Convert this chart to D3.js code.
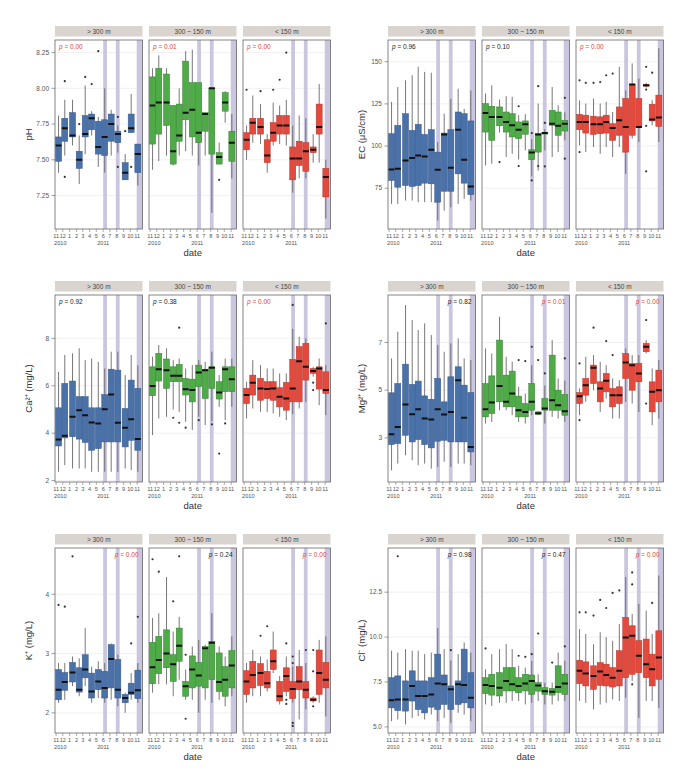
<!DOCTYPE html>
<html><head><meta charset="utf-8">
<script src="https://cdn.jsdelivr.net/npm/d3@7"></script>
<style>body{margin:0;background:#fff} text{font-family:"Liberation Sans",Arial,sans-serif}</style>
</head><body><svg id="c" width="684" height="774"></svg>
<script>
// ---------- data ----------
const sampleDates = ["2010-11-12","2010-12-10","2011-01-14","2011-02-13","2011-03-12","2011-04-10","2011-05-10","2011-06-08","2011-07-07","2011-08-06","2011-09-08","2011-10-05","2011-11-04"];
const tickDates = ["2010-11-01","2010-12-01","2011-01-01","2011-02-01","2011-03-01","2011-04-01","2011-05-01","2011-06-01","2011-07-01","2011-08-01","2011-09-01","2011-10-01","2011-11-01"];
const tickLabels = ["11","12","1","2","3","4","5","6","7","8","9","10","11"];
const yearLabels = [["2010","2010-11-01"],["2011","2011-06-01"]];
const bands = [["2011-06-01","2011-06-18"],["2011-07-28","2011-08-14"],["2011-10-30","2011-12-10"]];
const facets = ["> 300 m","300 ~ 150 m","< 150 m"];

// box stats: [lower whisker, Q1, median, Q3, upper whisker]
const pH_hi = [[7.41,7.49,7.60,7.66,7.81],[7.53,7.63,7.72,7.79,7.92],[7.60,7.66,7.67,7.83,7.92],[7.33,7.44,7.50,7.56,7.67],[7.54,7.66,7.68,7.81,8.02],[7.67,7.71,7.79,7.82,7.84],[7.45,7.54,7.59,7.77,7.80],[7.41,7.53,7.66,7.78,8.00],[7.53,7.63,7.75,7.82,7.85],[7.55,7.62,7.68,7.70,7.74],[7.36,7.36,7.41,7.48,7.54],[7.69,7.69,7.72,7.82,7.96],[7.32,7.41,7.54,7.61,7.61]];
const pH_mid = [[7.43,7.61,7.88,8.08,8.14],[7.49,7.68,7.90,8.14,8.23],[7.53,7.74,7.90,8.10,8.14],[7.46,7.47,7.56,7.88,7.88],[7.53,7.63,7.67,7.89,8.00],[7.56,7.78,7.83,8.19,8.26],[7.53,7.66,7.85,8.04,8.27],[7.46,7.62,7.69,8.04,8.04],[7.53,7.70,7.82,7.83,7.83],[7.13,7.54,8.00,8.00,8.00],[7.47,7.47,7.52,7.55,7.62],[7.76,7.84,7.90,7.97,7.98],[7.37,7.49,7.62,7.70,7.82]];
const pH_lo = [[7.50,7.57,7.64,7.69,7.74],[7.62,7.68,7.76,7.79,7.95],[7.61,7.68,7.73,7.79,7.89],[7.41,7.48,7.53,7.64,7.68],[7.60,7.63,7.69,7.76,7.90],[7.61,7.68,7.74,7.81,7.88],[7.60,7.68,7.74,7.81,7.92],[7.27,7.36,7.51,7.59,7.74],[7.37,7.46,7.51,7.63,7.81],[7.37,7.42,7.56,7.62,7.79],[7.48,7.55,7.57,7.59,7.68],[7.48,7.68,7.73,7.89,8.03],[7.09,7.24,7.38,7.44,7.50]];
const pH_hi_out = [[1,8.05],[1,7.38],[3,7.75],[4,8.08],[5,8.03],[6,8.26],[9,7.80],[9,7.45],[10,7.70],[11,7.45]];
const pH_mid_out = [[10,7.36]];
const pH_lo_out = [[0,7.99],[2,7.98],[4,7.99],[5,8.06],[6,8.25]];

const EC_hi = [[65.7,79.6,86.1,107.3,126.2],[65.7,75.6,86.5,112.3,135],[67.7,76.6,91.5,119.2,139],[67.7,76.0,92.9,109.3,142],[66.7,76.6,94.4,112.9,147],[66.7,78.0,93.8,106.9,144],[66.7,77.6,97.8,109.7,143.5],[55.8,66.7,85.9,96.4,102.4],[61.7,73.2,106.9,107.7,119.2],[63.7,73.2,87.1,109.7,128],[65.7,83.5,109.7,120.2,134],[68.7,78.0,91.9,119.2,122],[67.7,71.2,76.0,114.9,133]];
const EC_mid = [[88.5,108.3,119.6,125.2,131.2],[89.5,103.4,117.3,123.6,136],[108,112,117.3,123.2,127.6],[93.5,108.3,114.3,120.2,129.6],[95.4,105.4,112.3,119.2,129.2],[92,104.4,109.7,114.3,118.3],[97.4,107,112.9,114.9,118.9],[82,91.9,96.2,97.8,104],[85.5,96.4,106.9,107.3,125.2],[97.4,107.1,107.7,107.9,110],[93.5,112.3,113.3,121.2,135],[96.4,106.4,112.1,120.2,124.2],[103.4,108.9,113.3,115.3,120]];
const EC_lo = [[100.4,109.7,114.3,118.8,127],[96.4,107.7,114.3,118.3,125.2],[99.4,106.9,112.9,117.7,128.2],[95.4,107.3,112.9,117.3,125.2],[99.4,107.7,114.3,118.3,126.2],[93.5,103.4,110.7,113.3,120.2],[99.4,106.4,115.3,123.2,147],[83.5,96.4,111.3,128.2,133],[104.4,106.4,136.5,136.5,149],[102.4,110.9,111.3,128.2,140],[134.7,135.5,136,136.5,137.5],[112.3,114.9,115.7,124.8,127.2],[102.4,111.7,116.9,130.2,158]];
const EC_hi_out = [];
const EC_mid_out = [[2,90.5],[5,123.6],[5,88.1],[7,107.7],[7,79.6],[8,135.5],[8,88.1],[9,113.7],[9,87.9],[12,128.6],[12,92.5]];
const EC_lo_out = [[0,139],[0,96.4],[1,137.5],[2,137.5],[3,138],[4,142],[5,143],[10,147],[10,133.5],[10,112],[10,85],[11,143.5]];

const Ca_hi = [[2.37,3.46,3.73,5.07,6.59],[2.65,3.80,3.89,6.10,7.30],[2.51,3.85,4.69,6.20,7.37],[2.51,3.75,4.97,5.54,7.58],[2.51,3.61,4.76,5.54,7.08],[2.37,3.28,4.45,5.07,7.15],[2.37,3.35,4.41,5.07,7.01],[2.37,3.63,5.01,5.63,6.73],[2.37,3.63,5.63,6.70,7.44],[2.37,3.63,4.44,6.66,7.44],[2.51,3.42,4.23,5.04,6.45],[2.44,3.70,4.59,6.24,7.30],[2.37,3.28,3.75,5.89,6.87]];
const Ca_mid = [[3.92,5.58,5.99,6.80,7.23],[4.62,6.20,6.70,7.37,7.72],[4.69,5.89,6.66,7.13,7.58],[5.00,6.17,6.42,6.80,7.08],[4.90,6.17,6.42,6.90,7.15],[4.48,5.61,5.85,6.31,6.73],[4.13,5.32,5.82,6.28,6.87],[4.70,5.96,6.56,6.87,7.08],[4.34,5.46,6.66,6.70,7.01],[4.50,5.89,6.76,6.80,7.44],[5.11,5.44,5.72,6.17,6.45],[4.55,5.75,6.70,6.80,7.15],[5.11,5.75,6.28,6.80,7.15]];
const Ca_lo = [[4.62,5.25,5.61,5.89,6.17],[5.04,5.61,6.13,6.45,7.08],[4.90,5.39,5.89,6.31,6.87],[4.90,5.46,5.86,6.17,6.73],[4.83,5.39,5.89,6.17,6.73],[4.69,5.11,5.54,5.92,6.52],[4.55,4.97,5.46,6.14,6.52],[4.80,5.32,5.89,7.11,8.40],[5.04,5.32,7.04,7.65,8.07],[5.32,6.24,6.80,7.79,8.00],[6.38,6.52,6.62,6.73,6.80],[5.18,5.86,6.73,6.80,7.15],[4.76,5.68,5.82,6.59,6.87]];
const Ca_hi_out = [];
const Ca_mid_out = [[3,4.65],[4,8.45],[4,4.44],[5,4.23],[7,4.55],[9,4.37],[10,3.14],[11,4.41]];
const Ca_lo_out = [[7,9.41],[10,6.13],[10,5.82],[12,8.63]];

const Mg_hi = [[1.64,2.72,3.15,4.89,6.33],[1.92,2.76,3.46,5.28,7.45],[2.27,3.11,4.40,6.09,8.57],[2.06,2.83,3.99,5.24,7.94],[1.85,2.93,4.20,5.38,7.52],[1.92,2.72,3.81,4.76,7.80],[1.71,2.58,3.77,4.62,7.31],[1.78,2.86,4.20,5.49,6.89],[2.00,2.90,3.98,4.51,6.61],[1.78,2.83,4.09,5.56,6.96],[1.92,2.83,5.42,5.98,7.17],[1.92,2.83,3.84,5.21,6.33],[1.85,2.41,2.62,4.90,6.26]];
const Mg_mid = [[3.60,3.88,4.20,5.28,6.75],[3.67,4.02,4.48,5.60,6.54],[4.16,4.51,5.18,7.10,8.08],[4.16,4.30,4.51,5.63,6.40],[3.95,4.30,4.86,5.80,6.19],[3.67,3.88,4.16,4.75,5.14],[3.60,3.88,4.09,4.44,4.86],[3.95,4.16,4.51,5.28,6.05],[3.95,3.99,4.03,4.09,4.12],[3.60,4.16,4.23,4.65,5.20],[3.88,4.16,4.58,6.47,7.10],[3.81,4.16,4.37,5.00,5.49],[3.67,3.95,4.12,4.82,5.40]];
const Mg_lo = [[3.95,4.44,4.75,4.90,5.07],[4.51,4.79,5.21,5.49,6.40],[5.00,5.28,5.94,6.05,6.47],[4.09,4.51,5.07,5.35,6.19],[4.65,4.93,5.39,5.70,6.05],[3.81,4.30,4.79,5.07,5.49],[3.81,4.44,4.79,5.14,5.42],[4.51,5.49,6.16,6.54,6.75],[4.44,5.00,6.05,6.12,6.47],[4.09,5.35,5.70,6.12,6.47],[6.54,6.61,6.82,6.96,7.10],[3.53,4.09,4.93,5.35,5.91],[3.81,4.51,5.00,5.84,6.26]];
const Mg_hi_out = [];
const Mg_mid_out = [[5,6.26],[6,6.22],[7,6.82],[8,6.26],[9,5.70],[12,6.33]];
const Mg_lo_out = [[0,6.12],[0,3.74],[2,7.62],[4,7.06],[5,6.47],[10,7.94],[10,4.44]];

const K_hi = [[2.17,2.22,2.39,2.73,2.84],[2.22,2.38,2.52,2.68,2.84],[2.45,2.52,2.68,2.85,2.95],[2.28,2.35,2.39,2.76,2.92],[2.45,2.59,2.73,2.98,3.43],[2.17,2.25,2.36,2.67,2.78],[2.25,2.39,2.53,2.73,2.87],[2.17,2.25,2.42,2.70,2.84],[2.22,2.42,2.91,3.15,3.17],[2.11,2.25,2.39,2.90,2.98],[2.00,2.17,2.25,2.31,2.34],[2.22,2.31,2.34,2.50,2.67],[2.17,2.24,2.38,2.72,2.84]];
const K_mid = [[2.34,2.49,2.77,3.19,3.60],[2.48,2.66,2.89,3.29,3.68],[2.48,2.76,3.00,3.40,4.29],[2.28,2.53,2.82,2.98,3.37],[2.56,2.87,3.13,3.43,3.62],[2.22,2.28,2.45,2.53,2.73],[2.22,2.42,2.73,2.96,3.12],[2.00,2.45,2.63,2.85,3.23],[2.22,2.42,3.09,3.12,3.15],[2.17,2.56,3.18,3.20,3.68],[2.22,2.36,2.52,3.01,3.12],[2.11,2.28,2.56,2.78,2.95],[2.28,2.42,2.80,3.05,3.29]];
const K_lo = [[2.17,2.31,2.53,2.71,2.84],[2.28,2.42,2.64,2.87,3.06],[2.28,2.46,2.67,2.83,2.95],[2.36,2.42,2.50,2.70,2.90],[2.67,2.73,2.87,3.06,3.37],[2.14,2.20,2.28,2.53,2.62],[2.28,2.36,2.62,2.76,2.95],[2.17,2.24,2.40,2.53,2.78],[1.89,2.39,2.53,2.78,3.06],[2.06,2.25,2.39,2.53,2.84],[2.17,2.20,2.22,2.25,2.28],[2.17,2.31,2.67,3.06,3.23],[1.94,2.42,2.56,2.85,3.29]];
const K_hi_out = [[0,3.82],[1,3.79],[2,4.64],[11,3.17],[12,3.62]];
const K_mid_out = [[0,4.59],[1,4.38],[3,3.88],[4,4.64],[5,2.98],[5,1.90]];
const K_lo_out = [[2,3.30],[3,3.46],[6,3.17],[6,2.22],[6,2.15],[7,2.95],[7,2.84],[7,1.83],[7,1.78],[9,3.06],[10,3.06],[10,2.70],[10,2.11]];

const Cl_hi = [[5.32,6.06,6.49,7.74,9.24],[5.41,5.91,6.53,7.84,9.14],[5.13,5.88,6.53,7.56,9.33],[5.50,6.44,7.28,8.12,9.24],[5.60,5.97,6.72,7.56,9.24],[5.41,5.78,6.72,7.56,9.05],[5.69,6.10,6.81,7.74,9.14],[5.32,5.97,7.41,9.05,10.5],[5.50,6.25,7.37,7.89,9.33],[5.22,5.97,7.09,7.28,8.70],[5.78,6.25,7.37,7.56,9.05],[5.69,6.34,7.33,9.33,9.70],[5.32,6.06,6.62,8.02,9.14]];
const Cl_mid = [[6.25,6.85,7.33,7.74,8.21],[6.16,6.77,7.28,7.93,9.05],[6.34,6.72,7.18,8.02,9.33],[6.34,7.00,7.56,8.30,9.61],[6.44,7.00,7.37,8.30,9.33],[6.44,6.90,7.28,7.74,8.40],[6.25,7.00,7.41,7.93,8.30],[6.34,6.81,7.56,7.89,8.68],[6.44,6.99,7.31,7.46,7.93],[6.25,6.81,6.99,7.18,7.46],[6.25,6.77,6.96,7.14,7.46],[6.44,6.90,7.22,8.40,9.14],[6.44,6.81,7.41,7.93,8.68]];
const Cl_lo = [[6.44,7.41,8.12,8.71,10.45],[6.34,7.28,7.97,8.62,10.17],[5.97,7.09,7.84,8.40,9.60],[6.25,7.31,8.08,8.58,10.26],[6.34,7.28,7.89,8.49,10.00],[6.53,7.22,7.74,8.30,9.80],[6.44,7.28,8.12,9.24,10.73],[6.62,7.74,9.98,11.10,13.34],[7.56,7.93,10.07,10.63,11.29],[5.50,8.02,8.96,9.80,11.85],[6.44,7.74,8.49,9.89,11.47],[6.44,7.28,8.21,9.05,10.17],[6.06,7.65,8.86,10.35,13.43]];
const Cl_hi_out = [[1,14.5],[9,9.27]];
const Cl_mid_out = [[0,9.37],[5,8.96],[6,8.90],[7,9.05],[8,10.2],[10,8.58],[12,9.48]];
const Cl_lo_out = [[0,11.38],[1,11.38],[2,11.2],[3,12.07],[4,11.62],[5,12.46],[6,12.6],[8,13.6],[8,12.93],[8,7.37],[11,11.9]];

const pvals = {
  pH: ["0.00","0.01","0.00"], EC: ["0.96","0.10","0.00"], Ca: ["0.92","0.38","0.00"],
  Mg: ["0.82","0.01","0.00"], K: ["0.00","0.24","0.00"], Cl: ["0.98","0.47","0.00"]
};
const pH_ticks = [7.25,7.5,7.75,8.0,8.25];
const EC_ticks = [75,100,125,150];
const Ca_ticks = [2,4,6,8];
const Mg_ticks = [3,5,7];
const K_ticks = [2,3,4];
const Cl_ticks = [5,7.5,10,12.5];

// ---------- layout ----------
const colors = [{fill:"#4a72a8",stroke:"#34578a"},{fill:"#4faa48",stroke:"#367f31"},{fill:"#e34a3d",stroke:"#b3342a"}];
const colX = [55, 388];
const facetW = 87.5, facetGap = 6.5;
const rows = [{top:40,bottom:229},{top:295,bottom:482},{top:548,bottom:733}];

const panels = [
  {key:"pH", title:"pH", row:0, col:0, dom:[7.016,8.338], ticks:pH_ticks, fmt:d3.format(".2f"), data:[pH_hi,pH_mid,pH_lo], out:[pH_hi_out,pH_mid_out,pH_lo_out], pRight:false},
  {key:"EC", title:"EC (μS/cm)", row:0, col:1, dom:[50.8,162.9], ticks:EC_ticks, fmt:d3.format("d"), data:[EC_hi,EC_mid,EC_lo], out:[EC_hi_out,EC_mid_out,EC_lo_out], pRight:false},
  {key:"Ca", title:"Ca²⁺ (mg/L)", row:1, col:0, dom:[1.94,9.83], ticks:Ca_ticks, fmt:d3.format("d"), data:[Ca_hi,Ca_mid,Ca_lo], out:[Ca_hi_out,Ca_mid_out,Ca_lo_out], pRight:false},
  {key:"Mg", title:"Mg²⁺ (mg/L)", row:1, col:1, dom:[1.15,8.99], ticks:Mg_ticks, fmt:d3.format("d"), data:[Mg_hi,Mg_mid,Mg_lo], out:[Mg_hi_out,Mg_mid_out,Mg_lo_out], pRight:true},
  {key:"K", title:"K⁺ (mg/L)", row:2, col:0, dom:[1.66,4.78], ticks:K_ticks, fmt:d3.format("d"), data:[K_hi,K_mid,K_lo], out:[K_hi_out,K_mid_out,K_lo_out], pRight:true},
  {key:"Cl", title:"Cl⁻ (mg/L)", row:2, col:1, dom:[4.66,14.96], ticks:Cl_ticks, fmt:d3.format(".1f"), data:[Cl_hi,Cl_mid,Cl_lo], out:[Cl_hi_out,Cl_mid_out,Cl_lo_out], pRight:true}
];

const svg = d3.select("#c");
const parse = d3.utcParse("%Y-%m-%d");
const xDomain = [parse("2010-10-27"), parse("2011-11-25")];
const boxDays = 27;
let clipId = 0;

panels.forEach(p => {
  const r = rows[p.row];
  const x0 = colX[p.col];
  const y = d3.scaleLinear().domain(p.dom).range([r.bottom, r.top]);
  // y axis ticks & labels
  const ya = svg.append("g");
  p.ticks.forEach(t => {
    ya.append("line").attr("x1", x0-3.5).attr("x2", x0).attr("y1", y(t)).attr("y2", y(t)).attr("stroke","#777").attr("stroke-width",0.7);
    ya.append("text").attr("x", x0-6).attr("y", y(t)).attr("dy","0.35em").attr("text-anchor","end")
      .attr("font-size",6.5).attr("fill","#555").text(p.fmt(t));
  });
  svg.append("text").attr("transform",`translate(${x0-23},${(r.top+r.bottom)/2}) rotate(-90)`)
    .attr("text-anchor","middle").attr("font-size",9.5).attr("fill","#333").text(p.title);

  facets.forEach((fname, fi) => {
    const fx = x0 + fi*(facetW+facetGap);
    const x = d3.scaleUtc().domain(xDomain).range([fx, fx+facetW]);
    const g = svg.append("g");
    const cid = "clip"+(clipId++);
    g.append("clipPath").attr("id",cid).append("rect").attr("x",fx).attr("y",r.top).attr("width",facetW).attr("height",r.bottom-r.top);
    // strip
    g.append("rect").attr("x",fx).attr("y",r.top-14).attr("width",facetW).attr("height",10.5).attr("fill","#d9d4cf");
    g.append("text").attr("x",fx+facetW/2).attr("y",r.top-8.7).attr("dy","0.35em").attr("text-anchor","middle")
      .attr("font-size",6.5).attr("fill","#444").text(fname);
    const inner = g.append("g").attr("clip-path",`url(#${cid})`);
    // grid
    p.ticks.forEach(t => inner.append("line").attr("x1",fx).attr("x2",fx+facetW).attr("y1",y(t)).attr("y2",y(t)).attr("stroke","#ebebeb").attr("stroke-width",0.7));
    // bands
    bands.forEach(b => {
      const a = x(parse(b[0])), c = x(parse(b[1]));
      inner.append("rect").attr("x",a).attr("y",r.top).attr("width",c-a).attr("height",r.bottom-r.top).attr("fill","#cbc6df");
    });
    const col = colors[fi];
    const stats = p.data[fi];
    stats.forEach((s, i) => {
      const d = parse(sampleDates[i]);
      const cx = x(d);
      const bw = x(d3.utcDay.offset(d, boxDays)) - cx;
      inner.append("line").attr("x1",cx).attr("x2",cx).attr("y1",y(s[0])).attr("y2",y(s[4])).attr("stroke","#555").attr("stroke-width",0.8);
      inner.append("rect").attr("x",cx-bw/2).attr("y",y(s[3])).attr("width",bw).attr("height",Math.max(0.8,y(s[1])-y(s[3])))
        .attr("fill",col.fill).attr("stroke",col.stroke).attr("stroke-width",0.5);
      inner.append("line").attr("x1",cx-bw/2).attr("x2",cx+bw/2).attr("y1",y(s[2])).attr("y2",y(s[2])).attr("stroke","#111").attr("stroke-width",2);
    });
    p.out[fi].forEach(o => {
      const cx = x(parse(sampleDates[o[0]]));
      inner.append("circle").attr("cx",cx).attr("cy",y(o[1])).attr("r",1.1).attr("fill","#333");
    });
    // border
    g.append("rect").attr("x",fx).attr("y",r.top).attr("width",facetW).attr("height",r.bottom-r.top).attr("fill","none").attr("stroke","#666").attr("stroke-width",0.8);
    // p value
    const pv = p.key && pvals[p.key][fi];
    const red = parseFloat(pv) <= 0.05;
    const pt = g.append("text").attr("y", r.top+8.5).attr("font-size",6.5).attr("font-style","italic")
      .attr("fill", red ? "#e0483c" : "#222");
    if (p.pRight) pt.attr("x", fx+facetW-4).attr("text-anchor","end"); else pt.attr("x", fx+4);
    pt.append("tspan").text("p");
    pt.append("tspan").attr("font-style","normal").text(" = " + pv);
    // x axis
    tickDates.forEach((td, i) => {
      const tx = x(parse(td));
      g.append("line").attr("x1",tx).attr("x2",tx).attr("y1",r.bottom).attr("y2",r.bottom+3).attr("stroke","#777").attr("stroke-width",0.6);
      g.append("text").attr("x",tx).attr("y",r.bottom+9).attr("text-anchor","middle").attr("font-size",5.6).attr("fill","#555").text(tickLabels[i]);
    });
    yearLabels.forEach(([lab, dt], k) => {
      g.append("text").attr("x", x(parse(dt)) + (k===0 ? -2 : 0)).attr("y", r.bottom+16).attr("text-anchor", k===0 ? "start" : "middle")
        .attr("font-size",5.6).attr("fill","#555").text(lab);
    });
  });
  svg.append("text").attr("x", x0 + 1.5*facetW + facetGap).attr("y", r.bottom+27).attr("text-anchor","middle")
    .attr("font-size",9.5).attr("fill","#333").text("date");
});
</script></body></html>
